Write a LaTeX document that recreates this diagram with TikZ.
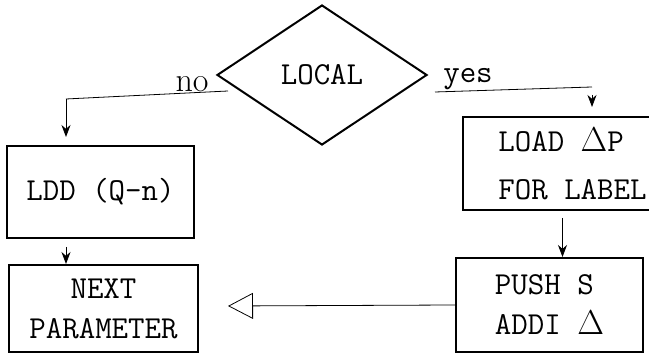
\documentclass[tikz,border=0pt]{standalone}
\usepackage{tikz}
\usetikzlibrary{shapes.geometric,arrows.meta}
\pgfdeclarelayer{bg}
\pgfsetlayers{bg,main}
\tikzset{
    every node/.style={inner sep=0mm, font=\ttfamily\fontsize{16}{20}\selectfont}
}
\tikzset{box/.style={draw, rectangle, line width=1pt, align=left}}
\tikzset{flow/.style={-{Stealth[length=6pt, width=4.5pt]}}}

\begin{document}
\begin{tikzpicture}[x=0.5pt, y=-0.5pt, line width=1pt]
    \useasboundingbox (0,0) rectangle (649,356);
    \node (loc) [draw, diamond, minimum width=105pt, minimum height=70pt] at (322,75) {LOCAL};
    \node (no) [font=\rmfamily\fontsize{17}{20}\selectfont] at (192,84) {no};
    \node (yes) at (468,79) {yes};

    \node (ldd) [box, align=center, minimum width=93.5pt, minimum height=46pt] at (100.5,192) {LDD (Q-n)};
    \node (next) [box, align=center, minimum width=94.5pt, minimum height=43.5pt] at (103.5,308.5) {NEXT\\PARAMETER};
    \node (lab) [box, minimum width=109.5pt, minimum height=46.5pt] at (572.5,163.5) {LOAD $\Delta$P\\[4pt]FOR LABEL};
    \node (push) [box, minimum width=93.5pt, minimum height=47pt] at (549.5,305) {PUSH S\\ADDI $\Delta$};

    \coordinate (nofrom) at (228,91);
    \coordinate (noturn) at (66,99);
    \coordinate (yesfrom) at (435,92);
    \coordinate (yesturn) at (592,87);
    \coordinate (ret) at (228,306);

    \begin{pgfonlayer}{bg}
        \draw (nofrom) edge (noturn);
        \draw (noturn) edge[flow, shorten >=4pt] (noturn |- ldd.north);
        \draw (ldd.south -| noturn) edge[flow, shorten <=4pt] (next.north -| noturn);

        \draw (yesfrom) edge (yesturn);
        \draw (yesturn) edge[flow, shorten <=4pt, shorten >=4.5pt] (yesturn |- lab.north);
        \draw ([xshift=-5pt]lab.south) edge[flow, shorten <=3.5pt] ([xshift=-5pt]lab.south |- push.north);

        \draw (push.west) edge[-{Triangle[open, length=12.5pt, width=13pt]}] (ret);
    \end{pgfonlayer}
\end{tikzpicture}
\end{document}
